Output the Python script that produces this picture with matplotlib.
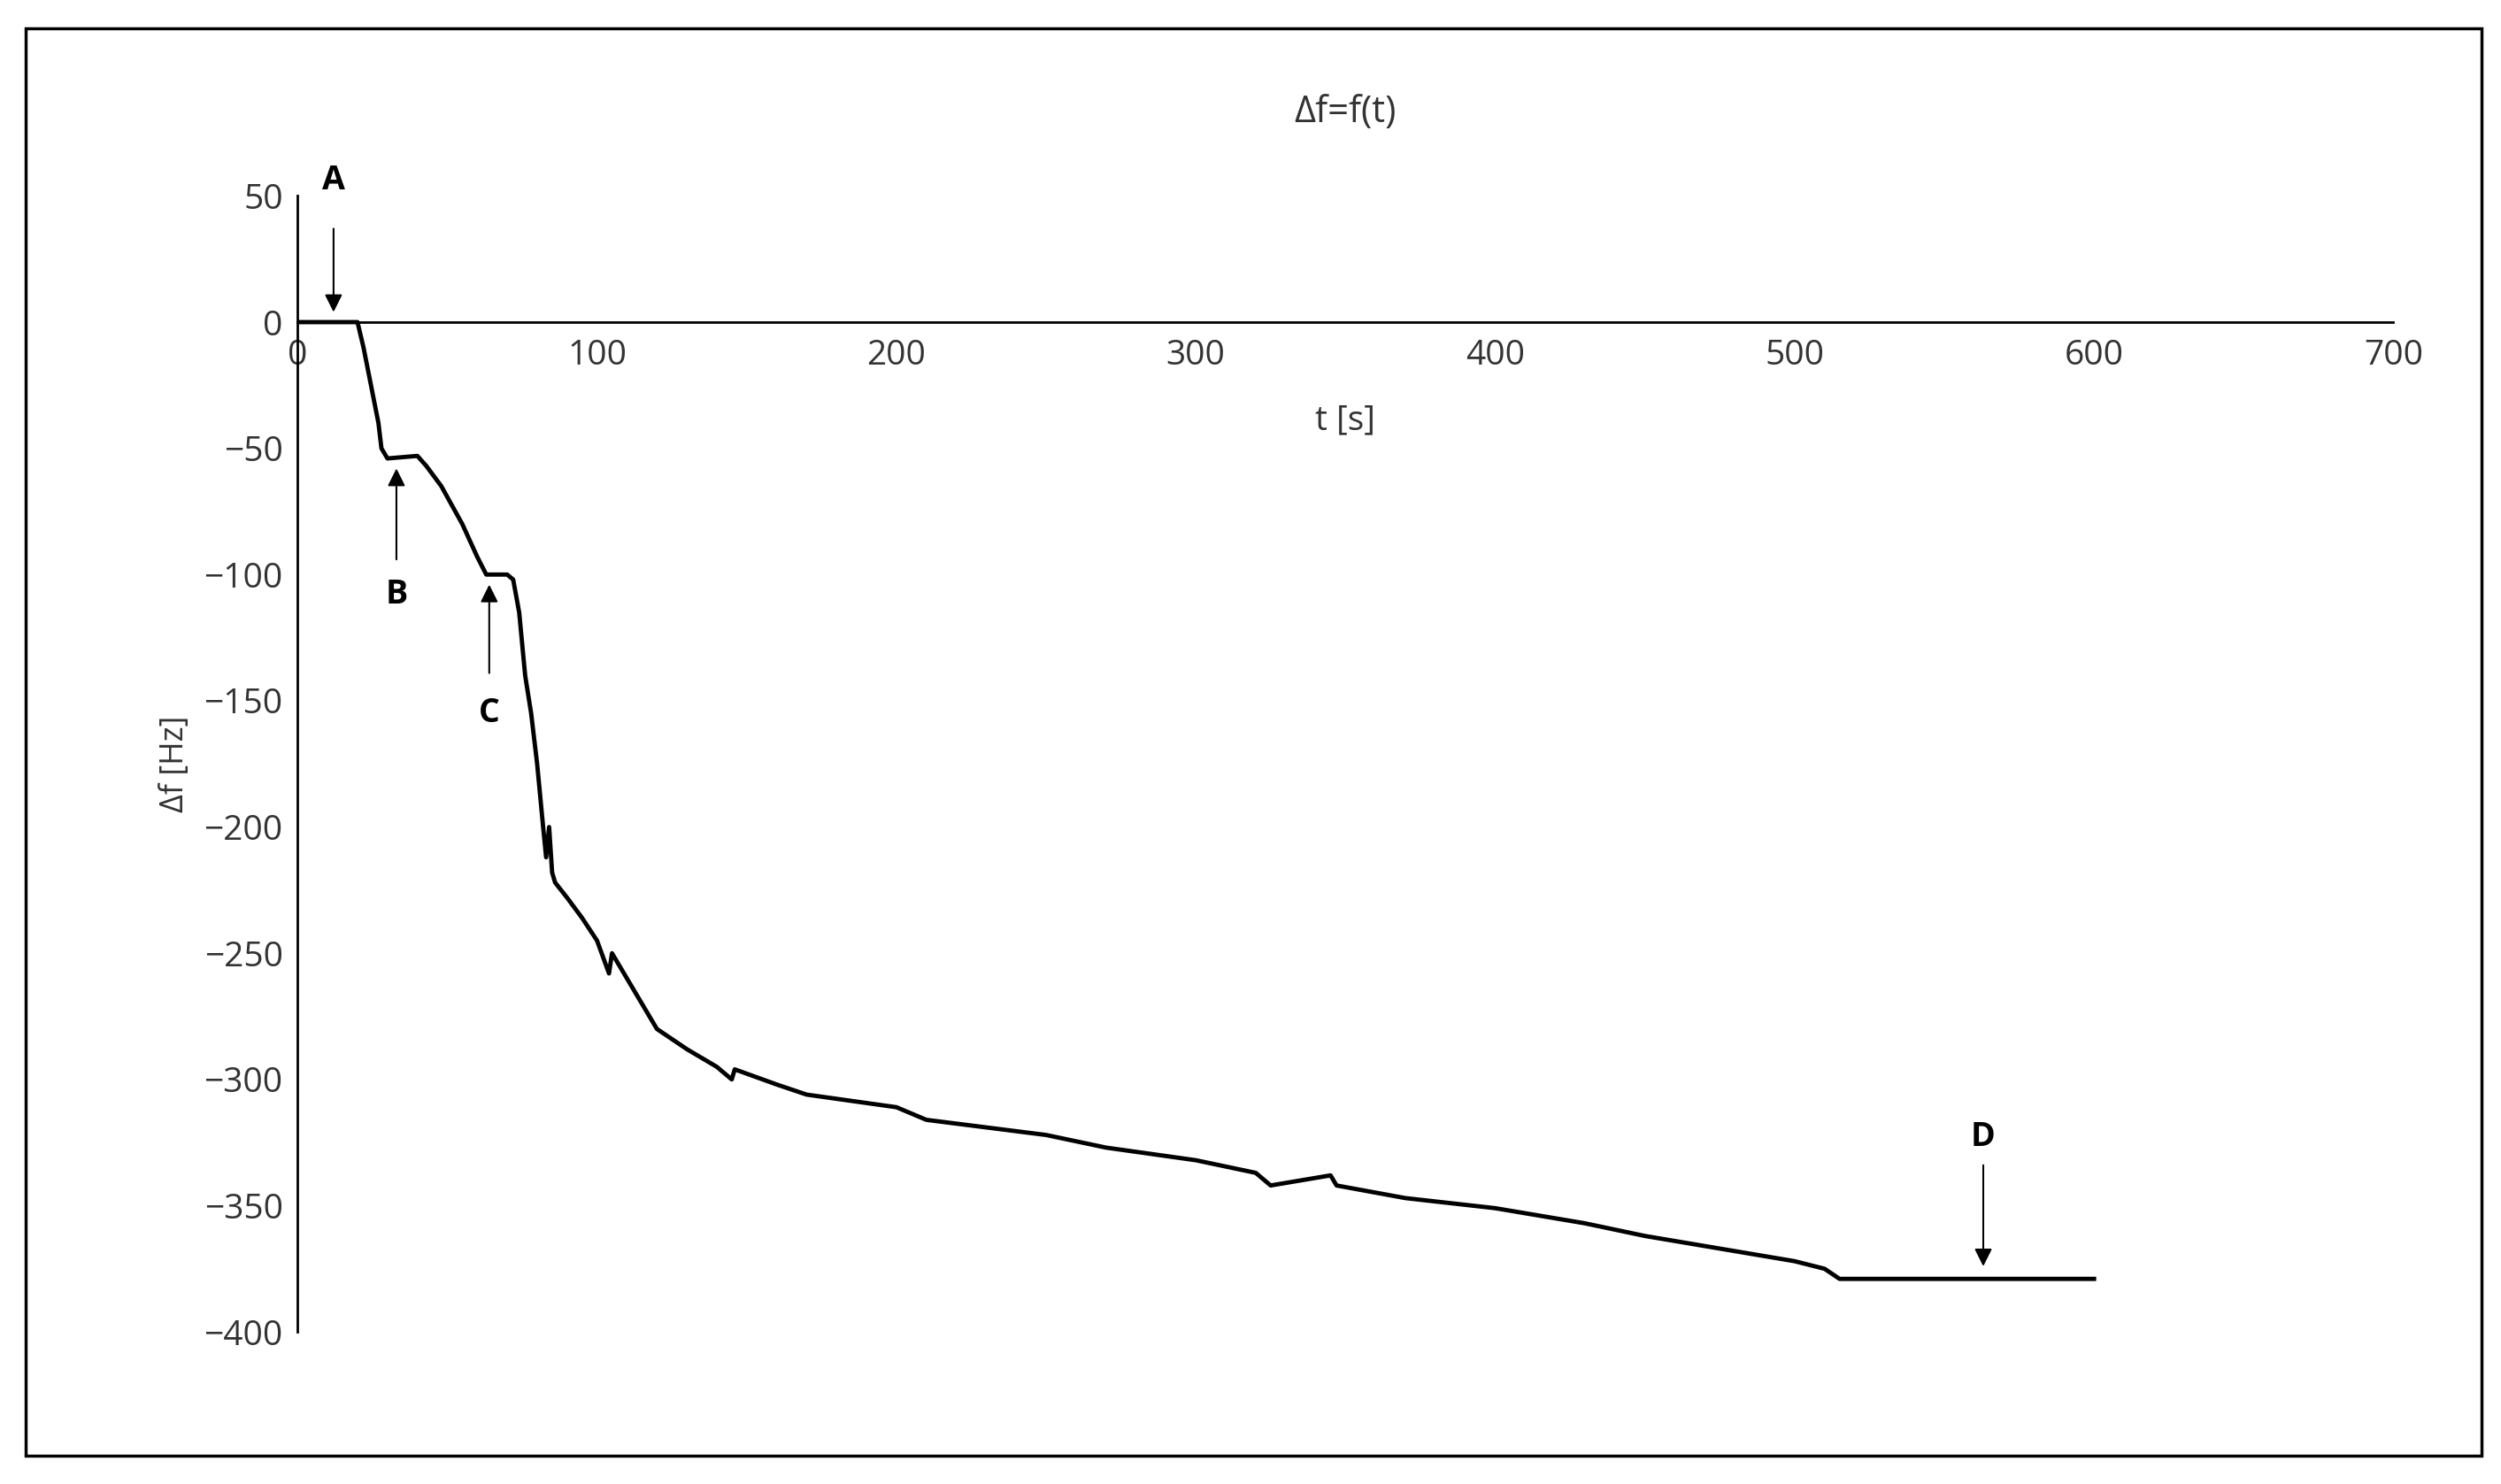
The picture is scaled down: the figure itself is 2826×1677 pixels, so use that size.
import matplotlib
matplotlib.use("Agg")
import matplotlib.pyplot as plt
from matplotlib.patches import Rectangle

t = [0,20,22,27,28,30,40,43,48,55,60,63,70,72,74,76,78,80,82,83,84,85,86,90,95,100,104,105,110,115,120,130,140,145,146,160,170,200,210,250,270,300,320,325,340,345,347,370,400,410,430,450,480,500,510,515,600]
df = [0,0,-10,-40,-50,-54,-53,-57,-65,-80,-93,-100,-100,-102,-115,-140,-155,-175,-200,-212,-200,-218,-222,-228,-236,-245,-258,-250,-260,-270,-280,-288,-295,-300,-296,-302,-306,-311,-316,-322,-327,-332,-337,-342,-339,-338,-342,-347,-351,-353,-357,-362,-368,-372,-375,-379,-379]
labels = ["A","B","C","D"]
label_t = [12,33,64,563]
label_y = [56,-108,-155,-323]
arrow_from = [38,-95,-140,-333]
arrow_to = [3,-57,-103,-375]

plt.rcParams['font.family'] = ['Open Sans', 'DejaVu Sans']
fig = plt.figure(figsize=(28.26,16.77), dpi=100)
fig.patches.append(Rectangle((0.0102,0.019),0.982,0.962,transform=fig.transFigure,fill=False,lw=2.5,ec='black'))
ax = fig.add_axes([0.119,0.1025,0.838,0.7655])
ax.plot(t, df, color='black', lw=3.5)
ax.set_xlim(0,700); ax.set_ylim(-400,50)
ax.set_xticks(range(0,701,100)); ax.set_yticks(range(-400,51,50))
ax.spines['top'].set_visible(False); ax.spines['right'].set_visible(False)
ax.spines['bottom'].set_position(('data',0))
for s in ['left','bottom']:
    ax.spines[s].set_linewidth(2); ax.spines[s].set_color('black')
ax.tick_params(length=0, labelsize=28, colors='#333333', pad=12)
ax.tick_params(axis='x', pad=14)
ax.set_ylabel('Δf [Hz]', fontsize=26, color='#333333', labelpad=10)
ax.set_xlabel('t [s]', fontsize=28, color='#333333', labelpad=25)
ax.set_title('Δf=f(t)', fontsize=30, color='#333333', pad=60)
for lb, x, y, y0, y1 in zip(labels, label_t, label_y, arrow_from, arrow_to):
    ax.text(x, y, lb, ha='center', va='center', fontsize=27, fontweight='bold')
    ax.annotate('', xy=(x,y1), xytext=(x,y0), arrowprops=dict(arrowstyle='-|>', color='black', lw=1.5, mutation_scale=30))
fig.savefig('out.png', dpi=100)
